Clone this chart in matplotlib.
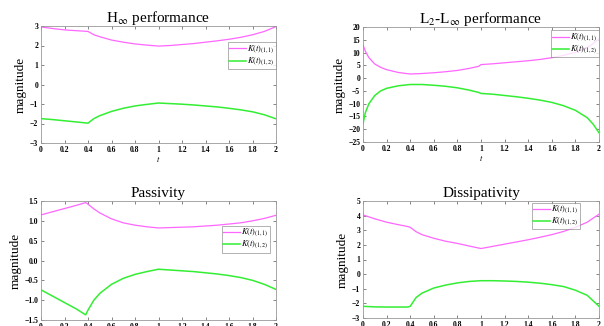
import matplotlib
matplotlib.use("Agg")
import matplotlib.pyplot as plt

plt.rcParams['font.family'] = ['Liberation Serif', 'DejaVu Serif']
plt.rcParams['mathtext.fontset'] = 'stix'

# H-infinity
t_h = [0, 0.1, 0.2, 0.3, 0.38, 0.4, 0.45, 0.5, 0.6, 0.7, 0.8, 0.9, 1.0,
       1.1, 1.2, 1.3, 1.4, 1.5, 1.6, 1.7, 1.8, 1.9, 2.0]
h_k11 = [2.95, 2.87, 2.8, 2.76, 2.73, 2.72, 2.55, 2.45, 2.28, 2.17, 2.08, 2.02, 1.97,
         2.0, 2.05, 2.1, 2.17, 2.24, 2.32, 2.42, 2.55, 2.72, 2.97]
h_k12 = [-1.75, -1.8, -1.86, -1.92, -1.97, -1.98, -1.75, -1.6, -1.38, -1.22, -1.1, -1.02, -0.95,
         -0.98, -1.01, -1.05, -1.1, -1.15, -1.22, -1.3, -1.4, -1.55, -1.76]

# L2-L-infinity
t_l = [0, 0.02, 0.05, 0.1, 0.15, 0.2, 0.3, 0.4, 0.5, 0.6, 0.7, 0.8, 0.9, 0.98, 1.0,
       1.1, 1.2, 1.3, 1.4, 1.5, 1.6, 1.7, 1.8, 1.9, 1.95, 2.0]
l_k11 = [13.0, 10.5, 8.0, 5.5, 4.2, 3.3, 2.2, 1.6, 1.8, 2.1, 2.5, 3.0, 3.8, 4.6, 5.3,
         5.6, 6.0, 6.4, 6.8, 7.3, 8.0, 8.9, 10.1, 12.0, 13.5, 15.3]
l_k12 = [-17.8, -13.5, -10.0, -6.8, -5.0, -4.0, -3.0, -2.5, -2.5, -2.8, -3.2, -3.8, -4.7, -5.6, -6.0,
         -6.3, -6.8, -7.3, -7.9, -8.6, -9.5, -10.8, -12.6, -15.5, -18.0, -21.4]

# Passivity
t_p = [0, 0.1, 0.2, 0.3, 0.38, 0.4, 0.45, 0.5, 0.6, 0.7, 0.8, 0.9, 1.0,
       1.1, 1.2, 1.3, 1.4, 1.5, 1.6, 1.7, 1.8, 1.9, 2.0]
p_k11 = [1.15, 1.23, 1.31, 1.39, 1.46, 1.42, 1.3, 1.2, 1.05, 0.95, 0.89, 0.85, 0.82,
         0.83, 0.84, 0.85, 0.87, 0.89, 0.92, 0.95, 1.0, 1.06, 1.14]
p_k12 = [-0.74, -0.9, -1.06, -1.22, -1.37, -1.25, -1.0, -0.83, -0.6, -0.45, -0.35, -0.28, -0.22,
         -0.24, -0.26, -0.28, -0.31, -0.34, -0.38, -0.43, -0.5, -0.6, -0.73]

# Dissipativity
t_d = [0, 0.1, 0.2, 0.3, 0.38, 0.4, 0.45, 0.5, 0.6, 0.7, 0.8, 0.9, 1.0,
       1.1, 1.2, 1.3, 1.4, 1.5, 1.6, 1.7, 1.8, 1.9, 2.0]
d_k11 = [4.05, 3.78, 3.55, 3.38, 3.25, 3.2, 2.9, 2.7, 2.45, 2.25, 2.1, 1.92, 1.75,
         1.9, 2.05, 2.2, 2.35, 2.52, 2.7, 2.92, 3.2, 3.55, 4.1]
d_k12 = [-2.2, -2.24, -2.25, -2.25, -2.25, -2.2, -1.6, -1.3, -0.95, -0.75, -0.6, -0.5, -0.45,
         -0.45, -0.47, -0.5, -0.55, -0.62, -0.72, -0.85, -1.1, -1.45, -2.2]

labels = [r'$K(t)_{(1,1)}$', r'$K(t)_{(1,2)}$']
magenta = '#ff66ff'
green = '#33ee33'

W, H = 604, 326
fig = plt.figure(figsize=(W / 100, H / 100), dpi=100)


def panel(rect, t, k11, k12, title, ylim, yticks, leg_anchor, xlab=True):
    x0, y0, x1, y1 = rect
    ax = fig.add_axes([x0 / W, 1 - y1 / H, (x1 - x0) / W, (y1 - y0) / H])
    ax.plot(t, k11, color=magenta, lw=0.9, label=labels[0])
    ax.plot(t, k12, color=green, lw=1.1, label=labels[1])
    ax.set_xlim(0, 2)
    ax.set_ylim(*ylim)
    ax.set_yticks(yticks)
    ax.set_xticks([0, 0.2, 0.4, 0.6, 0.8, 1, 1.2, 1.4, 1.6, 1.8, 2])
    ax.set_xticklabels(['0', '0.2', '0.4', '0.6', '0.8', '1', '1.2', '1.4', '1.6', '1.8', '2'])
    ax.tick_params(labelsize=5.5, length=2, width=0.5, direction='in', pad=2,
                   color='#555555', top=True, right=True)
    for lbl in ax.get_xticklabels() + ax.get_yticklabels():
        lbl.set_fontweight('bold')
    for s in ax.spines.values():
        s.set_color('#999999')
        s.set_linewidth(0.6)
    ax.set_ylabel('magnitude', fontsize=9.5, labelpad=2)
    if xlab:
        ax.set_xlabel(r'$t$', fontsize=6, labelpad=0)
    ax.set_title(title, fontsize=11, pad=3)
    leg = ax.legend(loc='upper right', bbox_to_anchor=leg_anchor, fontsize=6,
                    frameon=True, fancybox=False, edgecolor='#777777',
                    handlelength=2.0, handletextpad=0.2, borderpad=0.15,
                    labelspacing=0.0, borderaxespad=0)
    leg.get_frame().set_linewidth(0.5)
    return ax


panel((41, 26, 276, 143), t_h, h_k11, h_k12, r'H$_\infty$ performance',
      (-3, 3), [-3, -2, -1, 0, 1, 2, 3], (1.0, 0.86))
panel((363, 27, 599, 142), t_l, l_k11, l_k12, r'L$_2$-L$_\infty$ performance',
      (-25, 20), [-25, -20, -15, -10, -5, 0, 5, 10, 15, 20], (1.0, 0.97))
panel((41, 201, 276, 320), t_p, p_k11, p_k12, 'Passivity',
      (-1.5, 1.5), [-1.5, -1, -0.5, 0, 0.5, 1, 1.5], (0.975, 0.79), xlab=False)
panel((363, 201, 599, 318), t_d, d_k11, d_k12, 'Dissipativity',
      (-3, 5), [-3, -2, -1, 0, 1, 2, 3, 4, 5], (0.92, 0.985), xlab=False)

fig.savefig('out.png', dpi=100)
